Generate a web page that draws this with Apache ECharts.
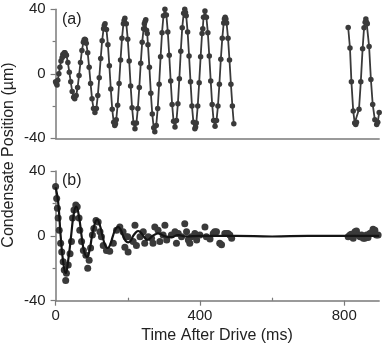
<!DOCTYPE html>
<html>
<head>
<meta charset="utf-8">
<script src="https://cdn.jsdelivr.net/npm/echarts@6/dist/echarts.min.js"></script>
<style>
  html, body { margin: 0; padding: 0; background: #fff; }
  #chart { width: 382px; height: 347px; }
</style>
</head>
<body>
<div id="chart"></div>
<script>
// panel (a): driven oscillation, [time ms, position um]
const drivenEarly = [
  [0,-5],[2,-6],[4,-7],[6,-4],[9,0],[12,4],[15,8],[18,10],[20,12],[22,11],[24,13],[26,13],[28,12],
  [30,11.5],[34,7],[38,1],[42,-5],[46,-11],[50,-14.5],[53,-15.5],[57,-13.5],[61,-8.5],[65,-1],
  [69,7],[73,14.5],[77,19.5],[79,21],[81,21.5],[83,21],[85,19],[89,13],[93,4],[97,-6],[101,-15.5],
  [105,-21.5],[109,-24],[113,-21.5],[117,-13.5],[121,-2.5],[125,9.5],[129,20.5],[133,28],[135,30],
  [137,31],[141,27.5],[145,18],[149,5],[153,-9.5],[157,-22],[161,-30],[164,-32],[166,-31],[168,-28.5],
  [172,-19.5],[176,-6],[180,8.5],[184,22],[188,31],[190,33],[192,34.5],[196,31],[200,21.5],[204,8],
  [208,-7.5],[212,-21],[216,-30.5],[220,-34],[224,-30.5],[228,-21.5],[232,-8.5],[236,6.5],[240,19.5],
  [244,28],[246,31],[248,32.5],[250,33.5],[252,27],[254,25],[256,18],[260,4],[264,-12],[268,-25],
  [272,-33.5],[275,-36],[279,-32],[283,-21.5],[287,-6.5],[291,10.5],[295,25.5],[299,36],[303,40],
  [307,36.5],[311,26],[315,11.5],[319,-4.5],[323,-19],[327,-29.5],[331,-33],[335,-29],[339,-18.5],
  [343,-3],[347,14],[351,28.5],[355,37.5],[358,40],[360,38],[362,36],[366,26],[370,11],[374,-5],
  [378,-20],[382,-30],[386,-34],[388,-33],[390,-30.5],[394,-20],[398,-5.5],[402,10.5],[406,25],
  [408,28],[410,35],[414,39],[418,35],[422,25.5],[426,11],[430,-4.5],[434,-19],[438,-29],[442,-32.5],
  [446,-29],[450,-20],[454,-6.5],[458,9],[462,22],[466,31.5],[468,34],[470,35],[472,34],[474,31.5],
  [478,22],[482,8.5],[486,-6.5],[490,-20],[494,-31]
];
const drivenLate = [
  [811,28.7],[816,16],[820,-5],[825,-23],[829,-30.5],[832,-31.5],[834,-30],[841,-22],[846,-5],
  [851,15.5],[855,28.5],[858,32],[860,34],[862,32],[864,31],[869,17],[874,-3.5],[879,-19],
  [885,-28.5],[890,-31.5],[893,-30],[897,-24]
];

// panel (b): free decay, measured points and fitted curve
const decayPoints = [
  [0,30.5],[3,23],[5,17],[7,11],[10,3.5],[14,-4.5],[17,-10],[21,-16],[24,-21],[28,-27.5],[30,-23],
  [35,-18],[40,-11],[44,-3.5],[47,11],[51,16],[56,19],[60,18],[65,11],[67,3.5],[72,-3.5],[77,-9],
  [84,-12],[89,-20],[93,-15],[97,-7.5],[102,0.5],[106,4.5],[112,9.5],[118,8.5],[123,2.5],[127,-0.5],
  [132,-6],[141,-9],[150,-9.5],[160,-4.5],[169,3.5],[178,5.5],[187,2.5],[192,-7],[195,-0.5],[200,-0.5],
  [201,-10],[215,-3.5],[220,6.5],[224,-6],[234,-0.5],[243,2.5],[247,-4.5],[257,-0.5],[266,-1.5],
  [270,-4.5],[275,5.5],[284,3.5],[289,-3.5],[298,0.5],[303,6.5],[308,-2.5],[321,0.5],[331,2.5],
  [335,-4.5],[340,1.5],[349,-0.5],[358,7.5],[363,2.5],[368,-2.5],[372,-4.5],[377,-0.5],[386,1.5],
  [391,-2.5],[400,0.5],[414,5.5],[418,-0.5],[428,-2],[437,1.5],[441,2.5],[446,2.5],[455,-4.5],
  [460,-5.5],[469,1.5],[474,1.5],[478,1.5],[483,0.5],[488,-1.5],
  [811,-0.5],[816,0.5],[820,1],[825,-1.5],[830,2.5],[834,3],[839,0.5],[844,-0.5],[848,0.5],
  [853,-1.5],[857,-1.5],[862,0.5],[866,-1],[871,1.5],[876,2],[880,4],[885,3.5],[889,0.5],[894,0.5]
];
const decayFit = [
  [0,30],[7,21],[14,0],[21,-16],[28,-23],[35,-15],[43,0],[50,13],[57,18],[64,13],[72,0],[79,-9.5],
  [87,-13],[94,-9],[101,0],[108,7],[115,10],[122,7],[130,0],[137,-5.5],[145,-7.5],[152,-5],[159,0],
  [166,4],[173,5.5],[180,4],[187,0],[194,-3],[201,-4],[208,-3],[215,0],[222,2],[229,3],[236,2],
  [243,0],[248,-1.5],[254,-2.5],[262,-1.5],[269,0],[277,1],[284,1.5],[292,1],[300,0],[320,-0.8],
  [340,0.5],[360,-0.3],[400,0],[500,0],[600,-0.4],[700,0],[800,0],[897,0]
];

const xTicks = [0, 400, 800];
const xMinorTicks = [200, 600];
const xMax = 897;

const font = '"Liberation Sans", Arial, sans-serif';
const axisColor = '#7a7a7a';
const ink = '#3a3a3a';

const chart = echarts.init(document.getElementById('chart'));

function yAxisFor(grid) {
  return {
    type: 'value', gridIndex: grid, min: -40, max: 40, interval: 40,
    axisLine: { show: true, onZero: false, lineStyle: { color: axisColor, width: 1.5 } },
    axisTick: { show: true, length: 5, lineStyle: { color: axisColor, width: 1.2 } },
    minorTick: { show: true, splitNumber: 2, length: 3, lineStyle: { color: axisColor, width: 1.2 } },
    splitLine: { show: false },
    axisLabel: { fontSize: 15, fontFamily: font, color: '#222', margin: 10 }
  };
}

chart.setOption({
  animation: false,
  grid: [
    { left: 55.6, top: 9.3, width: 323.6, height: 129 },
    { left: 55.6, top: 171, width: 323.6, height: 129.7 }
  ],
  xAxis: [
    {
      type: 'value', gridIndex: 0, min: 0, max: xMax,
      axisLine: { onZero: false, lineStyle: { color: axisColor, width: 1.5 } },
      axisTick: { show: false }, axisLabel: { show: false }, splitLine: { show: false }
    },
    {
      type: 'value', gridIndex: 1, min: 0, max: xMax,
      axisLine: { onZero: false, lineStyle: { color: axisColor, width: 1.5 } },
      axisTick: { show: true, length: 5, customValues: xTicks, lineStyle: { color: axisColor, width: 1.2 } },
      axisLabel: { customValues: xTicks, fontSize: 15, fontFamily: font, color: '#222', margin: 8 },
      splitLine: { show: false }
    },
    {
      type: 'value', gridIndex: 1, min: 0, max: xMax, position: 'bottom', offset: 0,
      axisLine: { show: false, onZero: false },
      axisTick: { show: true, inside: true, length: 3, customValues: xMinorTicks, lineStyle: { color: axisColor, width: 1.2 } },
      axisLabel: { show: false }, splitLine: { show: false }
    }
  ],
  yAxis: [yAxisFor(0), yAxisFor(1)],
  graphic: [
    { type: 'text', x: 62, y: 20, style: { text: '(a)', font: '16px ' + font, fill: '#222', textAlign: 'left', textVerticalAlign: 'middle' } },
    { type: 'text', x: 62, y: 181, style: { text: '(b)', font: '16px ' + font, fill: '#222', textAlign: 'left', textVerticalAlign: 'middle' } },
    { type: 'text', x: 9, y: 155, rotation: Math.PI / 2,
      style: { text: 'Condensate Position (µm)', font: '16px ' + font, fill: '#222', textAlign: 'center', textVerticalAlign: 'middle' } },
    { type: 'text', x: 217, y: 336,
      style: { text: 'Time After Drive (ms)', font: '16px ' + font, fill: '#222', textAlign: 'center', textVerticalAlign: 'middle' } }
  ],
  series: [
    {
      type: 'line', xAxisIndex: 0, yAxisIndex: 0, data: drivenEarly,
      symbol: 'circle', symbolSize: 5.5, showSymbol: true,
      lineStyle: { color: ink, width: 1.8 }, itemStyle: { color: ink }
    },
    {
      type: 'line', xAxisIndex: 0, yAxisIndex: 0, data: drivenLate,
      symbol: 'circle', symbolSize: 5.5, showSymbol: true,
      lineStyle: { color: ink, width: 1.8 }, itemStyle: { color: ink }
    },
    {
      type: 'scatter', xAxisIndex: 1, yAxisIndex: 1, data: decayPoints,
      symbol: 'circle', symbolSize: 7, itemStyle: { color: ink, opacity: 1 }
    },
    {
      type: 'line', xAxisIndex: 1, yAxisIndex: 1, data: decayFit, smooth: 0.5,
      showSymbol: false, z: 5,
      lineStyle: { color: '#141414', width: 2.2 }
    }
  ]
});
</script>
</body>
</html>
